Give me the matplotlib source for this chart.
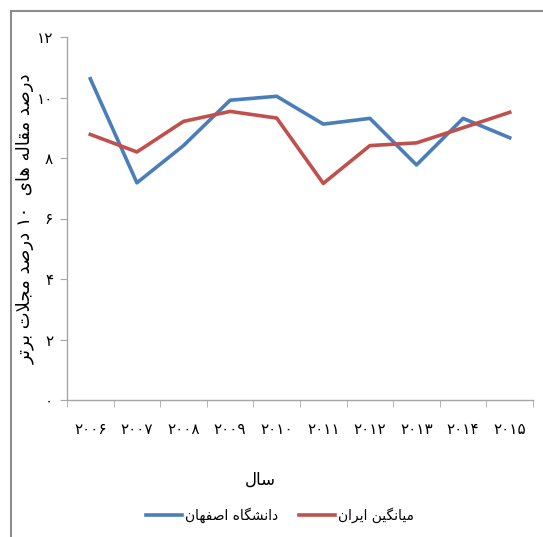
import matplotlib
matplotlib.use('Agg')
import matplotlib.pyplot as plt
from matplotlib.lines import Line2D

plt.rcParams['font.family'] = ['DejaVu Sans']

# data
years = [2006, 2007, 2008, 2009, 2010, 2011, 2012, 2013, 2014, 2015]
isfahan = [10.62, 7.18, 8.41, 9.91, 10.04, 9.12, 9.31, 7.77, 9.31, 8.67]
iran = [8.78, 8.20, 9.21, 9.54, 9.32, 7.16, 8.41, 8.50, 9.00, 9.51]
yticks = [0, 2, 4, 6, 8, 10, 12]

label_isfahan = 'دانشگاه اصفهان'
label_iran = 'میانگین ایران'
xlabel = 'سال'
ylabel = 'درصد مقاله های  ۱۰ درصد مجلات برتر'

# matplotlib has no arabic shaping, so do it by hand with presentation forms
FORMS = {
    '\u0627': ('\uFE8D', '\uFE8E', None, None),
    '\u0628': ('\uFE8F', '\uFE90', '\uFE91', '\uFE92'),
    '\u062A': ('\uFE95', '\uFE96', '\uFE97', '\uFE98'),
    '\u062C': ('\uFE9D', '\uFE9E', '\uFE9F', '\uFEA0'),
    '\u062F': ('\uFEA9', '\uFEAA', None, None),
    '\u0631': ('\uFEAD', '\uFEAE', None, None),
    '\u0633': ('\uFEB1', '\uFEB2', '\uFEB3', '\uFEB4'),
    '\u0634': ('\uFEB5', '\uFEB6', '\uFEB7', '\uFEB8'),
    '\u0635': ('\uFEB9', '\uFEBA', '\uFEBB', '\uFEBC'),
    '\u0641': ('\uFED1', '\uFED2', '\uFED3', '\uFED4'),
    '\u0642': ('\uFED5', '\uFED6', '\uFED7', '\uFED8'),
    '\u0644': ('\uFEDD', '\uFEDE', '\uFEDF', '\uFEE0'),
    '\u0645': ('\uFEE1', '\uFEE2', '\uFEE3', '\uFEE4'),
    '\u0646': ('\uFEE5', '\uFEE6', '\uFEE7', '\uFEE8'),
    '\u0647': ('\uFEE9', '\uFEEA', '\uFEEB', '\uFEEC'),
    '\u06CC': ('\uFBFC', '\uFBFD', '\uFBFE', '\uFBFF'),
    '\u06AF': ('\uFB92', '\uFB93', '\uFB94', '\uFB95'),
}


def joins_left(c):
    return c in FORMS and FORMS[c][2] is not None


def shape_word(w):
    w = w.replace('\u064A', '\u06CC')
    out = []
    i = 0
    while i < len(w):
        c = w[i]
        if c not in FORMS:
            out.append(c)
            i += 1
            continue
        jp = i > 0 and joins_left(w[i - 1])
        if c == '\u0644' and i + 1 < len(w) and w[i + 1] == '\u0627':
            out.append('\uFEFC' if jp else '\uFEFB')
            i += 2
            continue
        jn = joins_left(c) and i + 1 < len(w) and w[i + 1] in FORMS
        iso, fin, ini, med = FORMS[c]
        if jp and jn:
            out.append(med)
        elif jp:
            out.append(fin)
        elif jn:
            out.append(ini)
        else:
            out.append(iso)
        i += 1
    return ''.join(out)


def rtl(text):
    vis = []
    for w in text.split(' '):
        if any(ch in FORMS or ch == '\u064A' for ch in w):
            vis.append(shape_word(w)[::-1])
        else:
            vis.append(w)
    return ' '.join(vis[::-1])


def fa(n):
    return str(n).translate(str.maketrans('0123456789', '۰۱۲۳۴۵۶۷۸۹'))


blue = '#4A7EBB'
red = '#C0504D'
grey = '#A6A6A6'

fig = plt.figure(figsize=(5.43, 5.37), dpi=100)
ax = fig.add_axes([67 / 543, 1 - 400 / 537, 466 / 543, 363 / 537])

x = list(range(len(years)))
ax.plot(x, isfahan, color=blue, lw=2.6, label=rtl(label_isfahan))
ax.plot(x, iran, color=red, lw=2.6, label=rtl(label_iran))

ax.set_xlim(-0.5, len(years) - 0.5)
ax.set_ylim(0, 12)
ax.set_yticks(yticks)
ax.set_yticklabels([fa(v) for v in yticks], fontsize=11)
ax.set_xticks(x)
ax.set_xticklabels([fa(y) for y in years], fontsize=11)
ax.set_xticks([i - 0.5 for i in range(len(years) + 1)], minor=True)

ax.tick_params(axis='x', which='major', length=0, pad=16)
ax.tick_params(axis='x', which='minor', length=5, color=grey, direction='out')
ax.tick_params(axis='y', length=5, color=grey, pad=5)

for s in ['top', 'right']:
    ax.spines[s].set_visible(False)
for s in ['left', 'bottom']:
    ax.spines[s].set_color(grey)
    ax.spines[s].set_linewidth(1.0)

ax.set_ylabel(rtl(ylabel), fontsize=13)
ax.yaxis.set_label_coords(-0.069, 0.5)
ax.set_xlabel(rtl(xlabel), fontsize=12)
ax.xaxis.set_label_coords(0.414, -0.195)

fig.legend(loc='center', bbox_to_anchor=(280 / 543, 1 - 515 / 537), ncol=2,
           frameon=False, fontsize=10, handlelength=2.6, handletextpad=0.2,
           columnspacing=1.5)

# outer chart frame, cropped on right and bottom
fig.add_artist(Line2D([11 / 543, 1], [1 - 11 / 537, 1 - 11 / 537],
                      transform=fig.transFigure, color='#8C8C8C', lw=1.5))
fig.add_artist(Line2D([11 / 543, 11 / 543], [0, 1 - 11 / 537],
                      transform=fig.transFigure, color='#8C8C8C', lw=1.5))

fig.savefig('out.png', dpi=100)
